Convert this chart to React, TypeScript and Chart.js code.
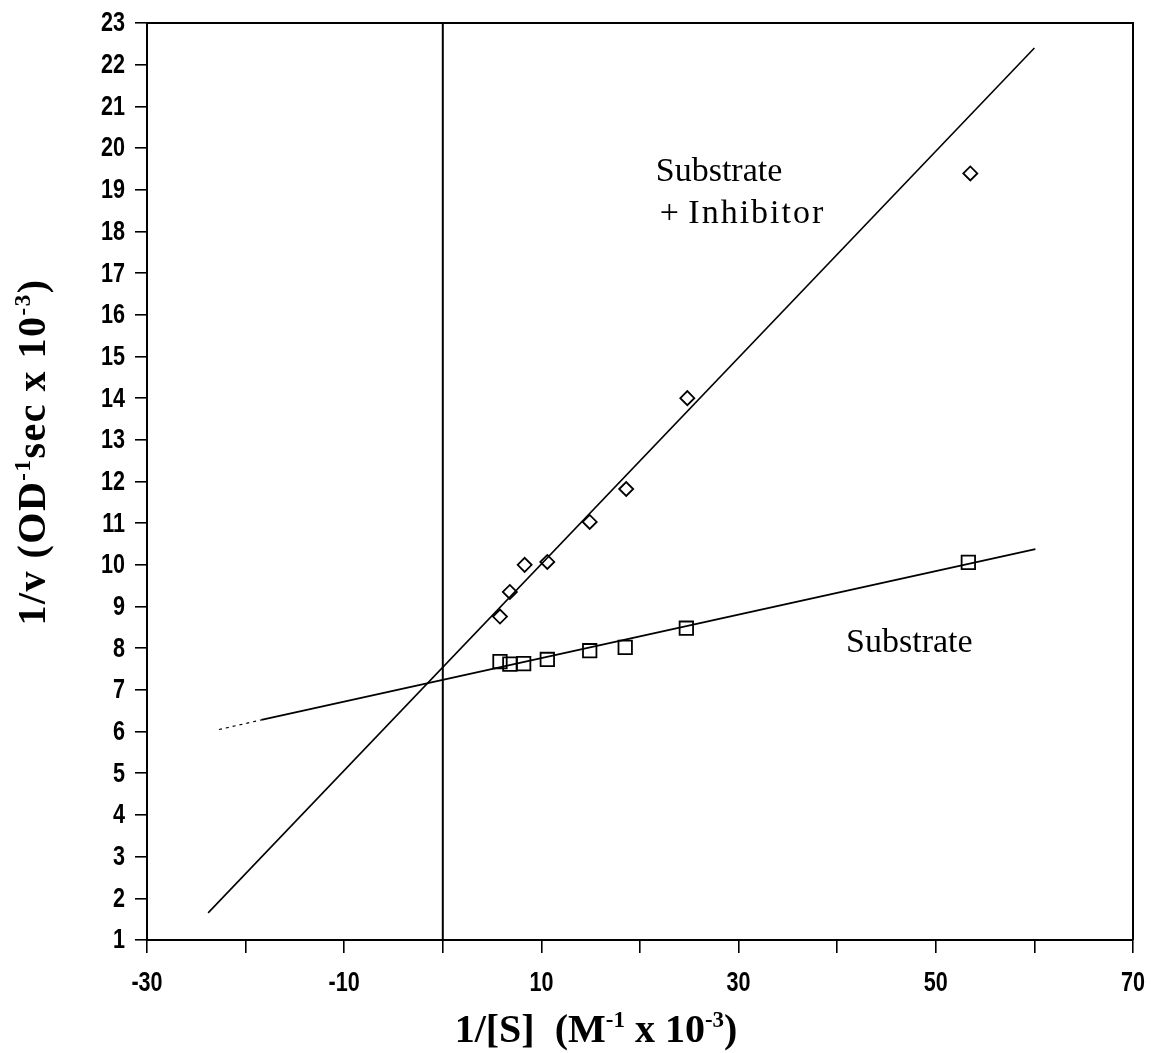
import React, { useEffect, useRef } from "react";
import { Chart, registerables } from "chart.js";

Chart.register(...registerables);

// ---- data ----
const substrateX = [5.8, 6.8, 8.2, 10.6, 14.9, 18.5, 24.7, 53.3];
const substrateY = [7.68, 7.62, 7.63, 7.73, 7.94, 8.02, 8.48, 10.06];

const inhibitorX = [5.8, 6.8, 8.3, 10.6, 14.9, 18.6, 24.8, 53.5];
const inhibitorY = [8.76, 9.35, 10.0, 10.07, 11.03, 11.82, 14.0, 19.39];

const inhibitorFitX = [-23.8, 60.0];
const inhibitorFitY = [1.65, 22.4];

const substrateFitX = [-18.4, 60.1];
const substrateFitY = [6.28, 10.38];

const substrateExtX = [-22.7, -18.4];
const substrateExtY = [6.05, 6.28];

const zeroLineX = [0, 0];
const zeroLineY = [1, 23];

const xTickValues = [-30, -20, -10, 0, 10, 20, 30, 40, 50, 60, 70];
const xTickLabels = ["-30", "", "-10", "", "10", "", "30", "", "50", "", "70"];
const yTickValues = [1, 2, 3, 4, 5, 6, 7, 8, 9, 10, 11, 12, 13, 14, 15, 16, 17, 18, 19, 20, 21, 22, 23];

const annotationTexts = ["Substrate", "+", "Inhibitor", "Substrate"];

const pts = (xs: number[], ys: number[]) => xs.map((x, i) => ({ x, y: ys[i] }));

const TICK_FONT = "'Liberation Sans', Arial, sans-serif";
const SERIF = "'Liberation Serif', 'Times New Roman', serif";

type Seg = { t: string; sup?: boolean };

function drawRich(ctx: CanvasRenderingContext2D, segs: Seg[], x: number, y: number, size: number) {
  const widths: number[] = [];
  let total = 0;
  segs.forEach((s) => {
    ctx.font = `bold ${s.sup ? Math.round(size * 0.58) : size}px ${SERIF}`;
    const w = ctx.measureText(s.t).width;
    widths.push(w);
    total += w;
  });
  let cx = x - total / 2;
  ctx.textAlign = "left";
  ctx.textBaseline = "alphabetic";
  segs.forEach((s, i) => {
    ctx.font = `bold ${s.sup ? Math.round(size * 0.58) : size}px ${SERIF}`;
    ctx.fillText(s.t, cx, y - (s.sup ? size * 0.38 : 0));
    cx += widths[i];
  });
}

const overlayPlugin = {
  id: "overlay",
  afterDraw(chart: any) {
    const { ctx, chartArea, scales } = chart;
    const xs = scales.x;
    const ys = scales.y;
    ctx.save();
    // box (top and right)
    ctx.strokeStyle = "#000";
    ctx.lineWidth = 2;
    ctx.beginPath();
    ctx.moveTo(chartArea.left, chartArea.top);
    ctx.lineTo(chartArea.right, chartArea.top);
    ctx.lineTo(chartArea.right, chartArea.bottom);
    ctx.stroke();

    ctx.fillStyle = "#000";

    // tick labels (condensed bold sans)
    ctx.font = `bold 27px ${TICK_FONT}`;
    ctx.textBaseline = "middle";
    yTickValues.forEach((v) => {
      ctx.save();
      ctx.translate(chartArea.left - 22, ys.getPixelForValue(v) + 1);
      ctx.scale(0.8, 1);
      ctx.textAlign = "right";
      ctx.fillText(String(v), 0, 0);
      ctx.restore();
    });
    xTickValues.forEach((v, i) => {
      if (!xTickLabels[i]) return;
      ctx.save();
      ctx.translate(xs.getPixelForValue(v), chartArea.bottom + 44);
      ctx.scale(0.8, 1);
      ctx.textAlign = "center";
      ctx.fillText(xTickLabels[i], 0, 0);
      ctx.restore();
    });

    // annotations
    ctx.font = `34px ${SERIF}`;
    ctx.textAlign = "left";
    ctx.textBaseline = "alphabetic";
    ctx.fillText(annotationTexts[0], xs.getPixelForValue(21.6), ys.getPixelForValue(19.2));
    ctx.fillText(annotationTexts[1], xs.getPixelForValue(22.0), ys.getPixelForValue(18.2));
    (ctx as any).letterSpacing = "2px";
    ctx.fillText(annotationTexts[2], xs.getPixelForValue(24.9), ys.getPixelForValue(18.2));
    (ctx as any).letterSpacing = "0px";
    ctx.fillText(annotationTexts[3], xs.getPixelForValue(40.9), ys.getPixelForValue(7.92));

    // x axis title
    drawRich(
      ctx,
      [{ t: "1/[S]  (M" }, { t: "-1", sup: true }, { t: " x 10" }, { t: "-3", sup: true }, { t: ")" }],
      596,
      chart.height - 11,
      40
    );

    // y axis title
    ctx.save();
    ctx.translate(45, 452);
    ctx.rotate(-Math.PI / 2);
    (ctx as any).letterSpacing = "1.5px";
    drawRich(
      ctx,
      [{ t: "1/v (OD" }, { t: "-1", sup: true }, { t: "sec x 10" }, { t: "-3", sup: true }, { t: ")" }],
      0,
      0,
      40
    );
    ctx.restore();
    ctx.restore();
  },
};

export default function App() {
  const ref = useRef<HTMLCanvasElement | null>(null);

  useEffect(() => {
    document.body.style.margin = "0";
    document.body.style.overflow = "hidden";
    const canvas = ref.current!;
    const lineStyle = {
      showLine: true,
      pointRadius: 0,
      borderColor: "#000",
      backgroundColor: "#000",
      borderWidth: 1.6,
      fill: false,
    };
    const chart = new Chart(canvas, {
      type: "scatter",
      data: {
        datasets: [
          { ...lineStyle, label: "zero", data: pts(zeroLineX, zeroLineY), borderWidth: 2 },
          { ...lineStyle, label: "inhibitor fit", data: pts(inhibitorFitX, inhibitorFitY) },
          { ...lineStyle, label: "substrate fit", data: pts(substrateFitX, substrateFitY), borderWidth: 1.8 },
          { ...lineStyle, label: "substrate ext", data: pts(substrateExtX, substrateExtY), borderWidth: 1.2, borderDash: [3, 4] },
          {
            label: "Substrate + Inhibitor",
            data: pts(inhibitorX, inhibitorY),
            pointStyle: "rectRot",
            pointRadius: 7,
            pointBorderWidth: 1.8,
            pointBorderColor: "#000",
            pointBackgroundColor: "rgba(0,0,0,0)",
            showLine: false,
          },
          {
            label: "Substrate",
            data: pts(substrateX, substrateY),
            pointStyle: "rect",
            pointRadius: 9.5,
            pointBorderWidth: 1.8,
            pointBorderColor: "#000",
            pointBackgroundColor: "rgba(0,0,0,0)",
            showLine: false,
          },
        ],
      },
      options: {
        animation: false,
        responsive: false,
        devicePixelRatio: 1,
        layout: { padding: { top: 23, right: 18, left: 0, bottom: 0 } },
        plugins: {
          legend: { display: false },
          tooltip: { enabled: false },
          title: { display: false },
        },
        scales: {
          x: {
            type: "linear",
            min: -30,
            max: 70,
            afterBuildTicks: (s: any) => {
              s.ticks = xTickValues.map((v) => ({ value: v }));
            },
            afterFit: (s: any) => {
              s.height = 113;
              s.paddingLeft = 0;
              s.paddingRight = 0;
            },
            ticks: { display: false, autoSkip: false, maxRotation: 0 },
            grid: {
              display: true,
              drawOnChartArea: false,
              drawTicks: true,
              tickLength: 13,
              color: "#000",
              lineWidth: 1.6,
            },
            border: { display: true, color: "#000", width: 2 },
          },
          y: {
            type: "linear",
            min: 1,
            max: 23,
            afterBuildTicks: (s: any) => {
              s.ticks = yTickValues.map((v) => ({ value: v }));
            },
            afterFit: (s: any) => {
              s.width = 147;
              s.paddingTop = 0;
              s.paddingBottom = 0;
            },
            ticks: { display: false, autoSkip: false },
            grid: {
              display: true,
              drawOnChartArea: false,
              drawTicks: true,
              tickLength: 12,
              color: "#000",
              lineWidth: 1.6,
            },
            border: { display: true, color: "#000", width: 2 },
          },
        },
      },
      plugins: [overlayPlugin],
    } as any);
    return () => chart.destroy();
  }, []);

  return (
    <div style={{ position: "absolute", left: 0, top: 0, width: 1151, height: 1053, background: "#fff" }}>
      <canvas ref={ref} width={1151} height={1053} style={{ display: "block" }} />
    </div>
  );
}
